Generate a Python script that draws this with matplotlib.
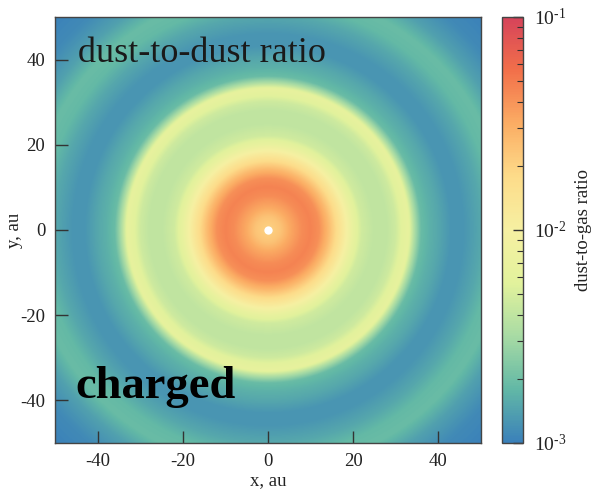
import numpy as np
import matplotlib
matplotlib.use("Agg")
import matplotlib.pyplot as plt
from matplotlib.colors import LogNorm, LinearSegmentedColormap
from matplotlib.cm import ScalarMappable
from matplotlib.ticker import LogLocator, FuncFormatter

plt.rcParams["font.family"] = ["Liberation Serif", "DejaVu Serif"]
plt.rcParams["mathtext.fontset"] = "custom"
plt.rcParams["mathtext.rm"] = "Liberation Serif"
plt.rcParams["mathtext.it"] = "Liberation Serif:italic"
plt.rcParams["axes.unicode_minus"] = False

# Azimuthally averaged dust-to-gas ratio versus distance from the star
radius_au = [0, 1, 3, 5, 8, 10, 12, 14, 16, 18, 20, 22, 25, 28, 30, 31.5,
             33, 34.5, 36, 38, 40, 43, 46, 50, 53, 56, 60, 65, 72]
dust_to_gas = [0.0210, 0.0210, 0.0240, 0.0320, 0.0430, 0.0468, 0.0417,
               0.0282, 0.0178, 0.0112, 0.00680, 0.00470, 0.00400, 0.00405,
               0.00460, 0.00580, 0.00660, 0.00330, 0.00190, 0.00166,
               0.00151, 0.00126, 0.00126, 0.00151, 0.00182, 0.00191,
               0.00141, 0.00112, 0.00100]

axis_ticks = [-40, -20, 0, 20, 40]
vmin, vmax = 1e-3, 1e-1

# Blue-green-yellow-red colour table (Spectral-like, softer yellow centre)
cmap = LinearSegmentedColormap.from_list(
    "spectral_soft",
    ["#3a80ba", "#62b8a6", "#a8dba4", "#e2f29c", "#f6f0a2",
     "#fddc8a", "#fbad64", "#f2704a", "#d6435a"])
norm = LogNorm(vmin=vmin, vmax=vmax)

# Map the radial profile onto the x-y plane
grid = np.linspace(-50, 50, 601)
X, Y = np.meshgrid(grid, grid)
R = np.hypot(X, Y)
field = 10 ** np.interp(R, radius_au, np.log10(dust_to_gas))

fig = plt.figure(figsize=(6.01, 4.96), dpi=100)
ax = fig.add_axes([0.0915, 0.1069, 0.7088, 0.8589])
cax = fig.add_axes([0.8353, 0.1069, 0.0349, 0.8589])

ax.imshow(np.clip(field, vmin, vmax), extent=(-50, 50, -50, 50),
          origin="lower", cmap=cmap, norm=norm, interpolation="bilinear",
          aspect="auto")
ax.plot([0], [0], "o", color="white", markersize=6, markeredgewidth=0)

ax.set_xlim(-50, 50)
ax.set_ylim(-50, 50)
ax.set_xticks(axis_ticks)
ax.set_yticks(axis_ticks)
ax.tick_params(direction="in", length=9, width=1, labelsize=13.5,
               colors="#333333", labelcolor="#222222", pad=7,
               top=False, right=False)
for sp in ax.spines.values():
    sp.set_color("#444444")
    sp.set_linewidth(1.0)

ax.set_xlabel("x, au", fontsize=13.5, color="#222222", labelpad=2)
ax.set_ylabel("y, au", fontsize=13.5, color="#222222")
ax.yaxis.set_label_coords(-0.075, 0.5)

ax.text(-44.6, 39.4, "dust-to-dust ratio", fontsize=26, color="#1a1a1a",
        ha="left", va="baseline")
ax.text(-45.1, -39.4, "charged", fontsize=33.5, fontweight="bold",
        color="black", ha="left", va="baseline")

sm = ScalarMappable(norm=norm, cmap=cmap)
cb = fig.colorbar(sm, cax=cax)
cb.outline.set_edgecolor("#444444")
cb.outline.set_linewidth(1.0)
cax.yaxis.set_major_locator(LogLocator(base=10))
cax.yaxis.set_major_formatter(FuncFormatter(
    lambda v, pos: r"$10^{\text{%d}}$" % round(np.log10(v))))
cax.yaxis.set_minor_locator(LogLocator(base=10, subs=np.arange(2, 10)))
cax.tick_params(which="major", direction="in", length=7, width=1,
                labelsize=14, colors="#333333", labelcolor="#222222",
                pad=8)
cax.tick_params(which="minor", direction="in", length=4, width=0.8,
                colors="#333333")
cb.set_label("dust-to-gas ratio", fontsize=13.5, color="#222222",
             labelpad=6)

fig.savefig("out.png", dpi=100)
